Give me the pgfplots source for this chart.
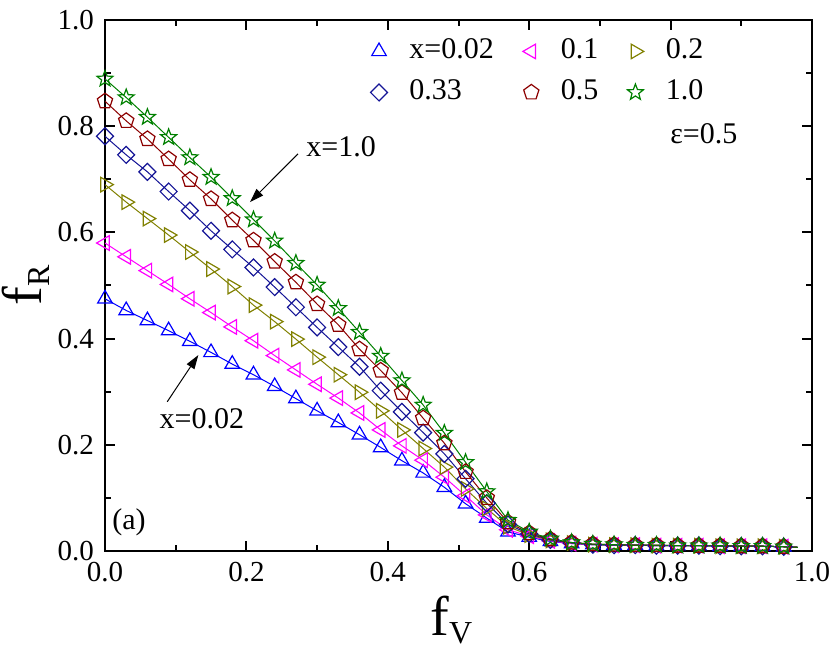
\documentclass[border=0pt]{standalone}
\usepackage{fontspec}
\setmainfont{Liberation Serif}
\usepackage{pgfplots}
\usepackage{pgfplotstable}
\pgfplotsset{compat=1.18}
\usetikzlibrary{arrows.meta,plotmarks}

\definecolor{cA}{RGB}{0,0,255}
\definecolor{cB}{RGB}{255,0,255}
\definecolor{cC}{RGB}{128,128,0}
\definecolor{cD}{RGB}{20,20,150}
\definecolor{cE}{RGB}{140,0,0}
\definecolor{cF}{RGB}{0,128,0}

% open five-point star
\pgfdeclareplotmark{ostar}{%
  \pgfpathmoveto{\pgfpointpolar{90}{\pgfplotmarksize}}%
  \pgfpathlineto{\pgfpointpolar{126}{0.42\pgfplotmarksize}}%
  \pgfpathlineto{\pgfpointpolar{162}{\pgfplotmarksize}}%
  \pgfpathlineto{\pgfpointpolar{198}{0.42\pgfplotmarksize}}%
  \pgfpathlineto{\pgfpointpolar{234}{\pgfplotmarksize}}%
  \pgfpathlineto{\pgfpointpolar{270}{0.42\pgfplotmarksize}}%
  \pgfpathlineto{\pgfpointpolar{306}{\pgfplotmarksize}}%
  \pgfpathlineto{\pgfpointpolar{342}{0.42\pgfplotmarksize}}%
  \pgfpathlineto{\pgfpointpolar{18}{\pgfplotmarksize}}%
  \pgfpathlineto{\pgfpointpolar{54}{0.42\pgfplotmarksize}}%
  \pgfpathclose
  \pgfusepathqstroke
}

\pgfplotstableread{
fv   a     b     c     d     e     g
0.00 0.475 0.580 0.690 0.781 0.847 0.889
0.03 0.453 0.554 0.657 0.746 0.810 0.854
0.06 0.434 0.528 0.626 0.714 0.776 0.817
0.09 0.415 0.502 0.595 0.677 0.738 0.779
0.12 0.395 0.475 0.563 0.641 0.699 0.741
0.15 0.374 0.449 0.531 0.603 0.663 0.704
0.18 0.352 0.422 0.498 0.568 0.623 0.664
0.21 0.332 0.396 0.463 0.534 0.585 0.624
0.24 0.310 0.368 0.432 0.497 0.545 0.584
0.27 0.287 0.341 0.399 0.459 0.506 0.542
0.30 0.264 0.314 0.365 0.421 0.465 0.501
0.33 0.242 0.288 0.332 0.384 0.426 0.457
0.36 0.219 0.260 0.299 0.347 0.380 0.412
0.39 0.195 0.228 0.264 0.302 0.340 0.367
0.42 0.170 0.198 0.228 0.262 0.298 0.321
0.45 0.147 0.171 0.193 0.223 0.250 0.275
0.48 0.120 0.139 0.158 0.183 0.203 0.222
0.51 0.089 0.104 0.117 0.136 0.149 0.167
0.54 0.062 0.068 0.080 0.090 0.100 0.112
0.57 0.036 0.040 0.046 0.050 0.054 0.058
0.60 0.026 0.028 0.030 0.032 0.034 0.036
0.63 0.018 0.019 0.020 0.021 0.022 0.023
0.66 0.014 0.014 0.015 0.015 0.016 0.016
0.69 0.012 0.012 0.012 0.012 0.013 0.013
0.72 0.011 0.011 0.011 0.011 0.012 0.012
0.75 0.011 0.011 0.011 0.011 0.011 0.011
0.78 0.010 0.010 0.010 0.010 0.011 0.011
0.81 0.010 0.010 0.010 0.010 0.010 0.010
0.84 0.010 0.010 0.010 0.010 0.010 0.010
0.87 0.009 0.009 0.009 0.009 0.010 0.010
0.90 0.009 0.009 0.009 0.009 0.009 0.009
0.93 0.009 0.009 0.009 0.009 0.009 0.009
0.96 0.008 0.008 0.008 0.008 0.008 0.008
0.98 0.007 0.007 0.007 0.007 0.007 0.007
}\data

\begin{document}
\begin{tikzpicture}
\useasboundingbox (-52.5pt,-48.5pt) rectangle (362.5pt,275.5pt);
\begin{axis}[
  at={(0,0)}, anchor=south west,
  width=353.5pt, height=265.5pt, scale only axis,
  xmin=0, xmax=1, ymin=0, ymax=1,
  xtick={0,0.2,...,1.0}, ytick={0,0.2,...,1.0},
  minor tick num=1,
  tick align=inside,
  major tick length=5pt, minor tick length=3pt,
  axis line style={line width=1pt},
  tick style={line width=1pt, black},
  /pgf/number format/.cd, fixed, fixed zerofill, precision=1, assume math mode=true,
  /pgfplots/.cd,
  ticklabel style={font=\fontsize{14.5}{16}\selectfont},
  xticklabel style={yshift=-2pt},
  yticklabel style={xshift=-2pt},
  xlabel={\fontsize{28}{32}\selectfont f\raisebox{-4pt}{\fontsize{16}{18}\selectfont V}},
  ylabel={\fontsize{28}{32}\selectfont f\raisebox{-4pt}{\fontsize{16}{18}\selectfont R}},
  xlabel style={at={(axis description cs:0.49,-0.085)}, anchor=north, inner sep=0pt},
  ylabel style={at={(axis description cs:-0.078,0.5)}, anchor=south, inner sep=0pt},
  legend columns=3,
  legend style={at={(0.375,0.967)}, anchor=north west, draw=none, fill=none,
    inner sep=0pt, row sep=7pt,
    font=\fontsize{15}{17}\selectfont,
    nodes={inner sep=0pt, text height=10.5pt, text depth=3pt},
    cells={anchor=west},
    /tikz/every odd column/.append style={column sep=11pt},
    /tikz/every even column/.append style={column sep=14.5pt}},
]
\addplot[cA, line width=0.5pt, forget plot] table[x=fv,y=a]{\data};
\addplot[cA, only marks, mark=triangle, mark size=4.2pt, mark options={line width=0.6pt}, restrict x to domain=0:0.97] table[x=fv,y=a]{\data};
\addlegendentry{x=0.02}
\addplot[cB, line width=0.5pt, forget plot] table[x=fv,y=b]{\data};
\addplot[cB, only marks, mark=triangle, mark size=4.2pt, mark options={line width=0.6pt, rotate=90}, restrict x to domain=0:0.97] table[x=fv,y=b]{\data};
\addlegendentry{0.1}
\addplot[cC, line width=0.5pt, forget plot] table[x=fv,y=c]{\data};
\addplot[cC, only marks, mark=triangle, mark size=4.2pt, mark options={line width=0.6pt, rotate=-90}, restrict x to domain=0:0.97] table[x=fv,y=c]{\data};
\addlegendentry{0.2}
\addplot[cD, line width=0.5pt, forget plot] table[x=fv,y=d]{\data};
\addplot[cD, only marks, mark=square, mark size=3pt, mark options={line width=0.6pt, rotate=45}, restrict x to domain=0:0.97] table[x=fv,y=d]{\data};
\addlegendentry{0.33}
\addplot[cE, line width=0.5pt, forget plot] table[x=fv,y=e]{\data};
\addplot[cE, only marks, mark=pentagon, mark size=4pt, mark options={line width=0.6pt}, restrict x to domain=0:0.97] table[x=fv,y=e]{\data};
\addlegendentry{0.5}
\addplot[cF, line width=0.5pt, forget plot] table[x=fv,y=g]{\data};
\addplot[cF, only marks, mark=ostar, mark size=4.2pt, mark options={line width=0.6pt}, restrict x to domain=0:0.97] table[x=fv,y=g]{\data};
\addlegendentry{1.0}

\node[font=\fontsize{15}{17}\selectfont] at (axis cs:0.334,0.761) {x=1.0};
\draw[-{Triangle[length=7pt,width=4.5pt]}, line width=0.5pt] (axis cs:0.273,0.748) -- (axis cs:0.205,0.657);
\node[font=\fontsize{15}{17}\selectfont] at (axis cs:0.137,0.249) {x=0.02};
\draw[-{Triangle[length=7pt,width=4.5pt]}, line width=0.5pt] (axis cs:0.088,0.281) -- (axis cs:0.132,0.369);
\node[font=\fontsize{15}{17}\selectfont] at (axis cs:0.847,0.785) {ε=0.5};
\node[font=\fontsize{15}{17}\selectfont] at (axis cs:0.034,0.055) {(a)};
\end{axis}
\end{tikzpicture}
\end{document}
